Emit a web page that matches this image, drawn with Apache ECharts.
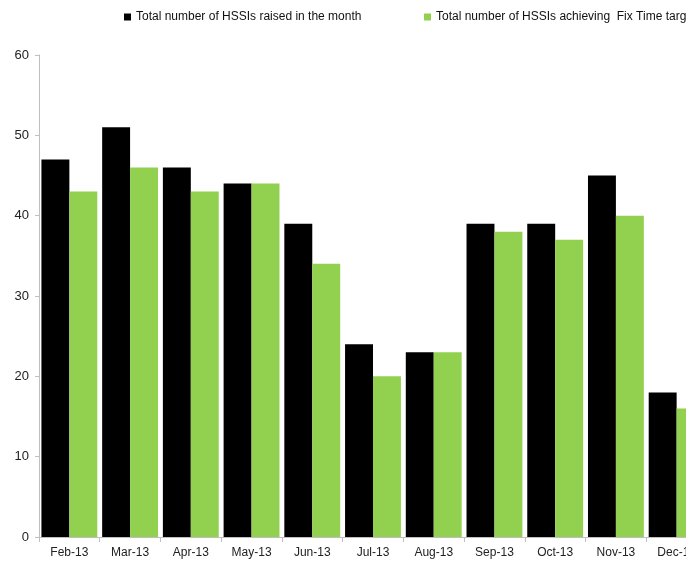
<!DOCTYPE html>
<html>
<head>
<meta charset="utf-8">
<script src="https://cdn.jsdelivr.net/npm/echarts@6/dist/echarts.min.js"></script>
<style>
html, body { margin: 0; padding: 0; background: #fff; overflow: hidden; }
#chart { width: 720px; height: 569px; }
</style>
</head>
<body>
<div id="chart"></div>
<script>
var months = ['Feb-13','Mar-13','Apr-13','May-13','Jun-13','Jul-13','Aug-13','Sep-13','Oct-13','Nov-13','Dec-13'];
var raised = [47, 51, 46, 44, 39, 24, 23, 39, 39, 45, 18];
var achieved = [43, 46, 43, 44, 34, 20, 23, 38, 37, 40, 16];
var yTicks = [0, 10, 20, 30, 40, 50, 60];

var nameRaised = 'Total number of HSSIs raised in the month';
var nameAchieved = 'Total number of HSSIs achieving  Fix Time target';
var font = "'Liberation Sans Narrow', 'Arial Narrow', 'Liberation Sans', sans-serif";

// the chart is wider than the window, so its right end is cut off like the original
var myChart = echarts.init(document.getElementById('chart'));
var option = {
    animation: false,
    legend: [
        {
            data: [nameRaised],
            left: 119, top: 6,
            itemWidth: 7, itemHeight: 7,
            icon: 'rect',
            itemGap: 4,
            textStyle: { fontFamily: font, fontSize: 12, color: '#111' }
        },
        {
            data: [nameAchieved],
            left: 419, top: 6,
            itemWidth: 7, itemHeight: 7,
            icon: 'rect',
            textStyle: { fontFamily: font, fontSize: 12, color: '#111' }
        }
    ],
    grid: { left: 39, right: 13, top: 55, bottom: 32, containLabel: false },
    xAxis: {
        type: 'category',
        data: months,
        axisLine: { lineStyle: { color: '#bfbfbf' } },
        axisTick: { show: true, length: 5, lineStyle: { color: '#bfbfbf' } },
        axisLabel: { fontFamily: font, fontSize: 12, color: '#222', margin: 10, interval: 0 }
    },
    yAxis: {
        type: 'value',
        min: yTicks[0], max: yTicks[yTicks.length - 1], interval: 10,
        axisLine: { show: true, lineStyle: { color: '#bfbfbf' } },
        axisTick: { show: true, length: 4, lineStyle: { color: '#bfbfbf' } },
        splitLine: { show: false },
        axisLabel: { fontFamily: font, fontSize: 13, color: '#222', margin: 10 }
    },
    series: [
        {
            name: nameRaised, type: 'bar', data: raised,
            itemStyle: { color: '#000000' },
            barGap: '0%', barCategoryGap: '8%'
        },
        {
            name: nameAchieved, type: 'bar', data: achieved,
            itemStyle: { color: '#92d050' },
            barGap: '0%', barCategoryGap: '8%'
        }
    ]
};
myChart.setOption(option);
</script>
</body>
</html>
